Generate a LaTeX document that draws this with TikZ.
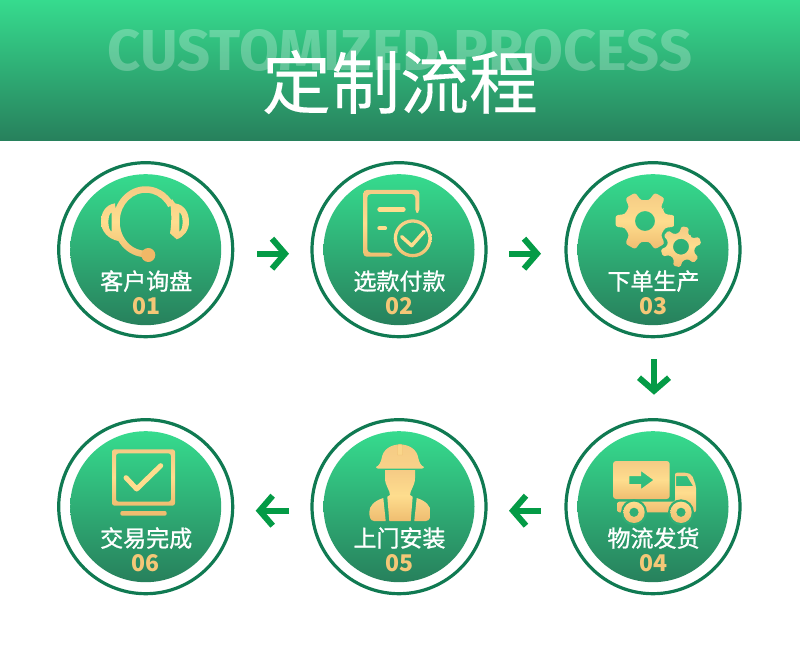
\documentclass[tikz,border=0pt]{standalone}
\usepackage{fontspec}
\usetikzlibrary{arrows.meta,calc}
\newfontfamily\cjk[FakeBold=0.1]{Noto Sans CJK SC}
\newfontfamily\cjkm[FakeBold=1.1]{Noto Sans CJK SC}
\newfontfamily\cjkb{Noto Sans CJK SC}
\newfontfamily\latbold{Fira Sans}
\definecolor{gtop}{HTML}{36DB8E}
\definecolor{gbot}{HTML}{27805C}
\definecolor{ringc}{HTML}{107A52}
\definecolor{arrowg}{HTML}{049B46}
\definecolor{numc}{HTML}{F4C777}
\definecolor{ga}{HTML}{F5CB85}
\definecolor{gb}{HTML}{FEDD8E}
\definecolor{gc}{HTML}{EFBD70}
\tikzset{
  stepring/.style={circle,draw=ringc,fill=white,line width=3.2pt,minimum size=174pt,inner sep=0pt,outer sep=0pt},
  stepdisc/.style={circle,minimum size=151pt,inner sep=0pt,top color=gtop,bottom color=gbot},
  steplabel/.style={font=\cjkm\fontsize{23}{23}\selectfont,text=white,inner sep=0pt},
  stepnum/.style={font=\cjkb\bfseries\fontsize{23}{23}\selectfont,text=numc,inner sep=0pt},
  icongrad/.style={top color=ga,bottom color=gc,middle color=gb},
  flow/.style={draw=arrowg,line width=6pt,-{Straight Barb[length=13pt,width=30pt]}},
}
\newcommand{\stepitem}[6]{%
  \node[stepring] (#1) at (#2,#3) {};
  \node[stepdisc] (#1d) at (#2,#3) {};
  \node[steplabel] (#1t) at (#2+0.5,#3+31.4) {#4};
  \node[stepnum] (#1n) at (#2+#6,#3+56) {#5};
}
\begin{document}
\begin{tikzpicture}[x=1pt,y=-1pt]
\useasboundingbox (0,0) rectangle (800,668);
\fill[white] (0,0) rectangle (800,668);
\path[top color=gtop,bottom color=gbot] (0,0) rectangle (800,141);
\node[text=white,text opacity=0.25,inner sep=0pt,font=\latbold\bfseries\fontsize{56}{56}\selectfont] (entitle) at (400,50) {\resizebox{584pt}{41pt}{CUSTOMIZED PROCESS}};
\node[text=white,inner sep=0pt,font=\cjk\fontsize{69}{69}\selectfont] (title) at (400,82) {定制流程};

\stepitem{c1}{145.7}{249.7}{客户询盘}{01}{0.5}
\stepitem{c2}{399}{249.7}{选款付款}{02}{0.5}
\stepitem{c3}{653}{249.7}{下单生产}{03}{0}
\stepitem{c4}{653}{506.7}{物流发货}{04}{0}
\stepitem{c5}{399}{506.7}{上门安装}{05}{0.5}
\stepitem{c6}{145.7}{506.7}{交易完成}{06}{0}

% connectors
\draw[flow,shorten <=24.3pt,shorten >=23pt] ([yshift=-4pt]c1.east) -- ([yshift=-4pt]c2.west);
\draw[flow,shorten <=23pt,shorten >=25pt] ([yshift=-4pt]c2.east) -- ([yshift=-4pt]c3.west);
\draw[flow,shorten <=22.5pt,shorten >=25pt] ([xshift=1pt]c3.south) -- ([xshift=1pt]c4.north);
\draw[flow,shorten <=25pt,shorten >=23pt] ([yshift=-4pt]c4.west) -- ([yshift=-4pt]c5.east);
\draw[flow,shorten <=23pt,shorten >=23pt] ([yshift=-4pt]c5.west) -- ([yshift=-4pt]c6.east);

% icon 1: headset
\path[icongrad]
  ([shift={(85:32.5 and 35.5)}]145.7,221.7) arc[start angle=85,end angle=330,x radius=32.5,y radius=35.5]
  -- ([shift={(330:26 and 29)}]145.7,221.7) arc[start angle=330,end angle=85,x radius=26,y radius=29] -- cycle
  (115,203.3) -- (118.3,241) .. controls (108,239) and (101,231) .. (101,222) .. controls (101,213) and (105,205) .. (115,203.3) -- cycle
  (111.7,212) .. controls (109,214) and (108.4,218) .. (108.4,222) .. controls (108.4,226) and (109,230) .. (111.7,232) -- cycle
  (172,199) -- (175,203.3) .. controls (185,205) and (189,213) .. (189,222) .. controls (189,230) and (184,237) .. (176.7,239.3) -- (170,233.3) .. controls (171.5,225) and (171.7,215) .. (170.5,205) -- cycle
  (179.3,212) -- (179.3,232) .. controls (182,230) and (182.6,226) .. (182.6,222) .. controls (182.6,218) and (182,214) .. (179.3,212) -- cycle;
\fill[color=gc!92!orange] (148.3,255) circle[radius=7];

% icon 2: document and check
\path[icongrad,rounded corners=3.5pt]
  (419.3,213) -- (419.3,190) -- (363.3,190) -- (363.3,256.7) -- (392,256.7) -- (392,252.7) -- (367.3,252.7) -- (367.3,194) -- (415.3,194) -- (415.3,213) -- cycle;
\draw[color=gb,line width=4.3pt,line cap=round] (379.5,209.5) -- (403.5,209.5);
\draw[color=gb,line width=4.3pt,line cap=round] (379.5,228.3) -- (385,228.3);
\path[icongrad,even odd rule] (412.7,238.3) circle[radius=19] (412.7,238.3) circle[radius=15.7];
\draw[color=gb,line width=3.5pt,line cap=round,line join=round] (401.7,236.7) -- (411.7,245.7) -- (424,231.7);

% icon 3: gears
\path[icongrad,even odd rule,rounded corners=2.5pt,shift={(645,221)}]
  (-30:21) foreach \a in {0,60,...,300} { -- (\a-19:21) -- (\a-11:30) -- (\a+11:30) -- (\a+19:21) -- (\a+30:21) } -- cycle
  (0,0) circle[radius=10];
\path[icongrad,even odd rule,rounded corners=1.5pt,shift={(681,246.7)}]
  (-48:14) foreach \a in {-18,42,...,282} { -- (\a-19:14) -- (\a-10:20.5) -- (\a+10:20.5) -- (\a+19:14) -- (\a+30:14) } -- cycle
  (0,0) circle[radius=8];

% icon 4: truck
\path[icongrad,even odd rule]
  [rounded corners=3pt] (613,461) rectangle (669.7,499)
  [rounded corners=0pt] (629.3,476) -- (641,476) -- (641,471) -- (653.3,480) -- (641,489) -- (641,484) -- (629.3,484) -- cycle;
\path[icongrad,even odd rule]
  [rounded corners=2pt] (675,472.7) -- (687,472.7) -- (692,475) -- (696,486) -- (696,512.3) -- (617.3,512.3) -- (617.3,501.7) -- (675,501.7) -- cycle
  [rounded corners=0pt] (676,476) -- (687,476) -- (693,486) -- (676,486) -- cycle;
\fill[color=gtop!52!gbot] (634,512.3) circle[radius=13] (681,512.3) circle[radius=13];
\path[top color=gb,bottom color=gc,even odd rule] (634,512.3) circle[radius=10.7] (634,512.3) circle[radius=4.7];
\path[top color=gb,bottom color=gc,even odd rule] (681,512.3) circle[radius=10.7] (681,512.3) circle[radius=4.7];

% icon 5: worker
\path[top color=ga,bottom color=gb!40!ga]
  (376,467) .. controls (379,466) and (381,462) .. (381.7,458) .. controls (383,450) and (390,444.5) .. (400,444.5)
  .. controls (410,444.5) and (417,450) .. (418.3,458) .. controls (419,462) and (421,466) .. (424,467)
  .. controls (424,468) and (423,468.5) .. (422,468.5) -- (378,468.5) .. controls (377,468.5) and (376,468) .. (376,467) -- cycle;
\path[draw=gc,line width=0.4pt,fill=gb!60!ga] (397.5,455) -- (397.5,446) .. controls (397.5,443.5) and (402.5,443.5) .. (402.5,446) -- (402.5,455) -- cycle;
\path[icongrad]
  (385,470) -- (415,470) -- (415,478) .. controls (415,486) and (410,490) .. (410,495) -- (412.7,496.7) -- (410.7,521) -- (389.3,521) -- (387.3,496.7) -- (390,495) .. controls (390,490) and (385,486) .. (385,478) -- cycle;
\path[top color=gb!60!ga,bottom color=gc]
  (383.3,498) -- (385.7,521) -- (374,521) .. controls (370,521) and (369.3,516) .. (369.3,512) .. controls (369.3,506) and (374,501) .. (383.3,498) -- cycle;
\path[top color=gb!60!ga,bottom color=gc]
  (416.7,498) -- (414.3,521) -- (426,521) .. controls (430,521) and (430.7,516) .. (430.7,512) .. controls (430.7,506) and (426,501) .. (416.7,498) -- cycle;

% icon 6: monitor and check
\path[icongrad,even odd rule,rounded corners=2.5pt]
  (112,449.3) rectangle (175,505.7) (116,453.3) rectangle (171,501.7);
\fill[color=gc,rounded corners=2pt] (120.3,511) rectangle (166.7,515.7);
\draw[color=gb,line width=5pt,line cap=round,line join=round] (126,477.7) -- (136.7,489) -- (160.7,465.7);
\end{tikzpicture}
\end{document}
